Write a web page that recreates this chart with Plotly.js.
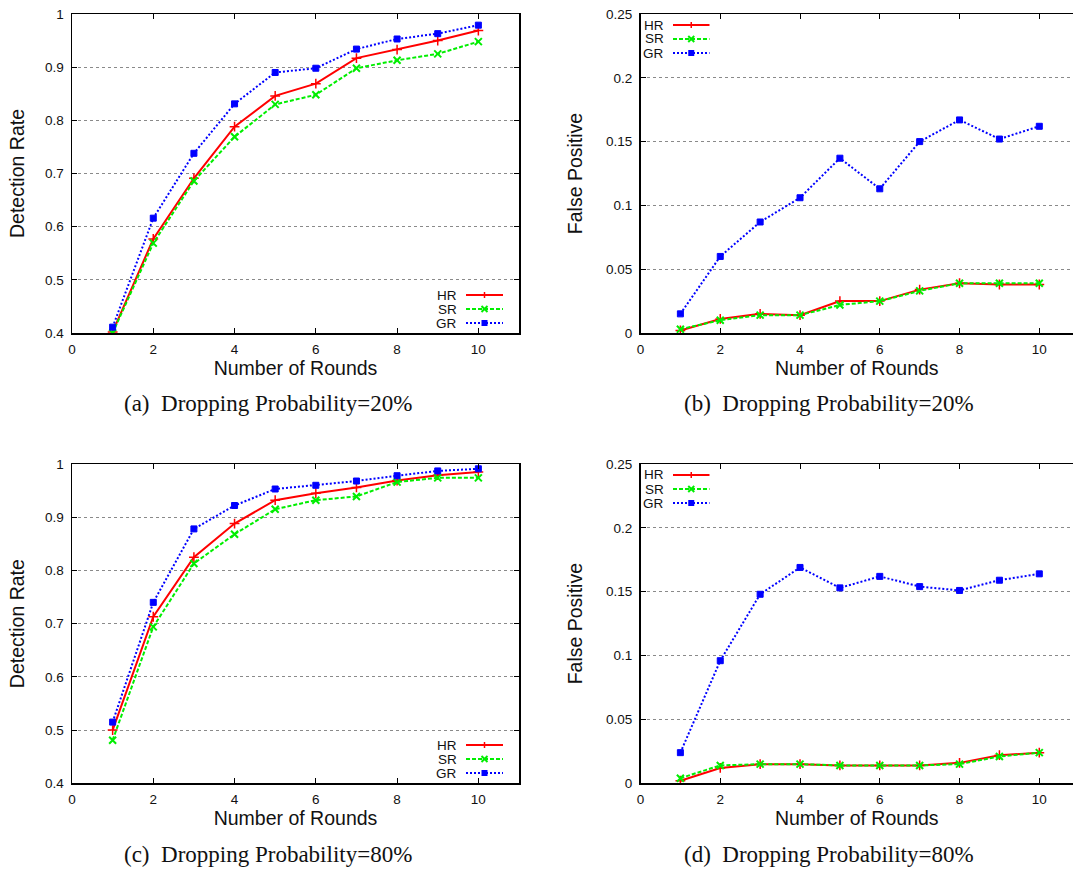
<!DOCTYPE html>
<html>
<head>
<meta charset="utf-8">
<script src="https://cdn.plot.ly/plotly-3.0.1.min.js"></script>
<style>
html,body{margin:0;padding:0;background:#fff;overflow:hidden;}
#chart{width:1073px;height:870px;}
</style>
</head>
<body>
<div id="chart"></div>
<script>
// ---- data ----
const rounds = [1, 2, 3, 4, 5, 6, 7, 8, 9, 10];
const seriesNames = ["HR", "SR", "GR"];

// (a) Detection rate, dropping probability 20%
const hrDetect20 = [0.402, 0.577, 0.691, 0.788, 0.846, 0.869, 0.917, 0.933, 0.950, 0.969];
const srDetect20 = [0.400, 0.569, 0.686, 0.769, 0.830, 0.848, 0.898, 0.913, 0.925, 0.948];
const grDetect20 = [0.411, 0.616, 0.738, 0.831, 0.890, 0.898, 0.934, 0.953, 0.963, 0.979];

// (b) False positive, dropping probability 20%
const hrFalse20 = [0.002, 0.011, 0.015, 0.014, 0.025, 0.025, 0.034, 0.039, 0.038, 0.038];
const srFalse20 = [0.003, 0.010, 0.014, 0.014, 0.022, 0.025, 0.033, 0.039, 0.039, 0.039];
const grFalse20 = [0.015, 0.060, 0.087, 0.106, 0.137, 0.113, 0.150, 0.167, 0.152, 0.162];

// (c) Detection rate, dropping probability 80%
const hrDetect80 = [0.500, 0.713, 0.825, 0.888, 0.932, 0.945, 0.956, 0.969, 0.979, 0.985];
const srDetect80 = [0.481, 0.694, 0.813, 0.868, 0.915, 0.932, 0.939, 0.966, 0.974, 0.974];
const grDetect80 = [0.515, 0.740, 0.878, 0.922, 0.953, 0.960, 0.968, 0.978, 0.987, 0.991];

// (d) False positive, dropping probability 80%
const hrFalse80 = [0.002, 0.012, 0.015, 0.015, 0.014, 0.014, 0.014, 0.016, 0.022, 0.024];
const srFalse80 = [0.004, 0.014, 0.015, 0.015, 0.014, 0.014, 0.014, 0.015, 0.021, 0.024];
const grFalse80 = [0.024, 0.096, 0.148, 0.169, 0.153, 0.162, 0.154, 0.151, 0.159, 0.164];

const captions = [
  "(a)\u2002Dropping Probability=20%",
  "(b)\u2002Dropping Probability=20%",
  "(c)\u2002Dropping Probability=80%",
  "(d)\u2002Dropping Probability=80%"
];
const xTitle = "Number of Rounds";
const yTitles = ["Detection Rate", "False Positive", "Detection Rate", "False Positive"];

// ---- styles ----
const W = 1073, H = 870;
const px = v => v / W;
const py = v => (H - v) / H;
const sans = "Liberation Sans, Arial, Helvetica, sans-serif";
const serif = "Liberation Serif, Times New Roman, serif";
const styles = [
  {color: "#ff0000", dash: "solid", symbol: "cross-thin-open", size: 7, lw: 1.5},
  {color: "#00ee00", dash: "4px,2px", symbol: "x-thin-open", size: 7, lw: 2},
  {color: "#0000ff", dash: "2px,2px", symbol: "square", size: 6, lw: 1}
];

const panels = [
  {data: [hrDetect20, srDetect20, grDetect20], ax: "", range: [0.4, 1], dtick: 0.1},
  {data: [hrFalse20, srFalse20, grFalse20], ax: "2", range: [0, 0.25], dtick: 0.05},
  {data: [hrDetect80, srDetect80, grDetect80], ax: "3", range: [0.4, 1], dtick: 0.1},
  {data: [hrFalse80, srFalse80, grFalse80], ax: "4", range: [0, 0.25], dtick: 0.05}
];

const traces = [];
panels.forEach((p, pi) => {
  p.data.forEach((vals, si) => {
    const s = styles[si];
    traces.push({
      x: rounds, y: vals, name: seriesNames[si], type: "scatter", mode: "lines+markers",
      xaxis: "x" + p.ax, yaxis: "y" + p.ax, showlegend: false, cliponaxis: true,
      line: {color: s.color, width: 2, dash: s.dash},
      marker: {symbol: s.symbol, size: s.size, color: s.color, line: {color: s.color, width: s.lw}}
    });
  });
});

// ---- geometry (pixel boxes) ----
const boxes = [
  {x0: 72, x1: 519, y0: 14, y1: 333, xr: [0, 11], right: true},
  {x0: 640.5, x1: 1073, y0: 14, y1: 333, xr: [0, 10.845], right: false},
  {x0: 72, x1: 519, y0: 464, y1: 783.3, xr: [0, 11], right: true},
  {x0: 640.5, x1: 1073, y0: 464, y1: 783.3, xr: [0, 10.845], right: false}
];

const layout = {
  width: W, height: H, margin: {l: 0, r: 0, t: 0, b: 0},
  paper_bgcolor: "#fff", plot_bgcolor: "#fff",
  font: {family: sans, size: 13.5, color: "#111"},
  showlegend: false, annotations: [], shapes: []
};

panels.forEach((p, pi) => {
  const b = boxes[pi];
  layout["xaxis" + p.ax] = {
    domain: [px(b.x0), px(b.x1)], anchor: "y" + p.ax, range: b.xr,
    tick0: 0, dtick: 2, ticks: "inside", ticklen: 5, tickwidth: 1, tickcolor: "#000",
    showline: true, linecolor: "#000", linewidth: 1.5, mirror: "allticks",
    showgrid: false, zeroline: false, automargin: false, ticklabelstandoff: 3,
    tickfont: {family: sans, size: 13.5, color: "#111"},
    title: {text: xTitle, font: {family: sans, size: 19.5, color: "#111"}, standoff: 4}
  };
  layout["yaxis" + p.ax] = {
    domain: [py(b.y1), py(b.y0)], anchor: "x" + p.ax, range: p.range,
    dtick: p.dtick, ticks: "inside", ticklen: 5, tickwidth: 1, tickcolor: "#000",
    showline: true, linecolor: "#000", linewidth: 1.5, mirror: b.right ? "allticks" : false,
    showgrid: true, gridcolor: "#8a8a8a", griddash: "dot", gridwidth: 1,
    zeroline: false, automargin: false, ticklabelstandoff: 4,
    tickfont: {family: sans, size: 13.5, color: "#111"},
    title: {text: yTitles[pi], font: {family: sans, size: 19.5, color: "#111"}, standoff: pi % 2 === 0 ? 15 : 18}
  };

  // caption
  layout.annotations.push({
    xref: "paper", yref: "paper", x: px(pi % 2 === 0 ? 122 : 682), y: py(pi < 2 ? 404 : 854),
    xanchor: "left", yanchor: "middle", showarrow: false, text: captions[pi],
    font: {family: serif, size: 23, color: "#111"}
  });

  // gnuplot-style key: label then line sample
  const legBottom = pi % 2 === 0;  // a, c: bottom right; b, d: top left
  const textRight = legBottom ? 457.7 : 664.5;
  const sx0 = legBottom ? 466 : 673, sx1 = legBottom ? 503 : 709.5;
  const rowsY = legBottom ? [b.y0 + 281, b.y0 + 295, b.y0 + 309] : [b.y0 + 11, b.y0 + 25, b.y0 + 39];
  seriesNames.forEach((nm, si) => {
    const s = styles[si];
    const yy = rowsY[si];
    const mx = (sx0 + sx1) / 2;
    layout.annotations.push({
      xref: "paper", yref: "paper", x: px(textRight), y: py(yy), xanchor: "right", yanchor: "middle",
      showarrow: false, text: nm, borderpad: 0, font: {family: sans, size: 13.5, color: "#111"}
    });
    layout.shapes.push({
      type: "line", xref: "paper", yref: "paper", x0: px(sx0), x1: px(sx1), y0: py(yy), y1: py(yy),
      line: {color: s.color, width: 2, dash: s.dash}
    });
    const r = 3;
    if (si === 0) {
      layout.shapes.push({type: "line", xref: "paper", yref: "paper", x0: px(mx - r), x1: px(mx + r), y0: py(yy), y1: py(yy), line: {color: s.color, width: 1.5}});
      layout.shapes.push({type: "line", xref: "paper", yref: "paper", x0: px(mx), x1: px(mx), y0: py(yy - r), y1: py(yy + r), line: {color: s.color, width: 1.5}});
    } else if (si === 1) {
      layout.shapes.push({type: "line", xref: "paper", yref: "paper", x0: px(mx - r), x1: px(mx + r), y0: py(yy - r), y1: py(yy + r), line: {color: s.color, width: 2}});
      layout.shapes.push({type: "line", xref: "paper", yref: "paper", x0: px(mx - r), x1: px(mx + r), y0: py(yy + r), y1: py(yy - r), line: {color: s.color, width: 2}});
    } else {
      layout.shapes.push({type: "rect", xref: "paper", yref: "paper", x0: px(mx - r), x1: px(mx + r), y0: py(yy - r), y1: py(yy + r), fillcolor: s.color, line: {width: 0}});
    }
  });
});

Plotly.newPlot("chart", traces, layout, {staticPlot: true, displayModeBar: false});
</script>
</body>
</html>
